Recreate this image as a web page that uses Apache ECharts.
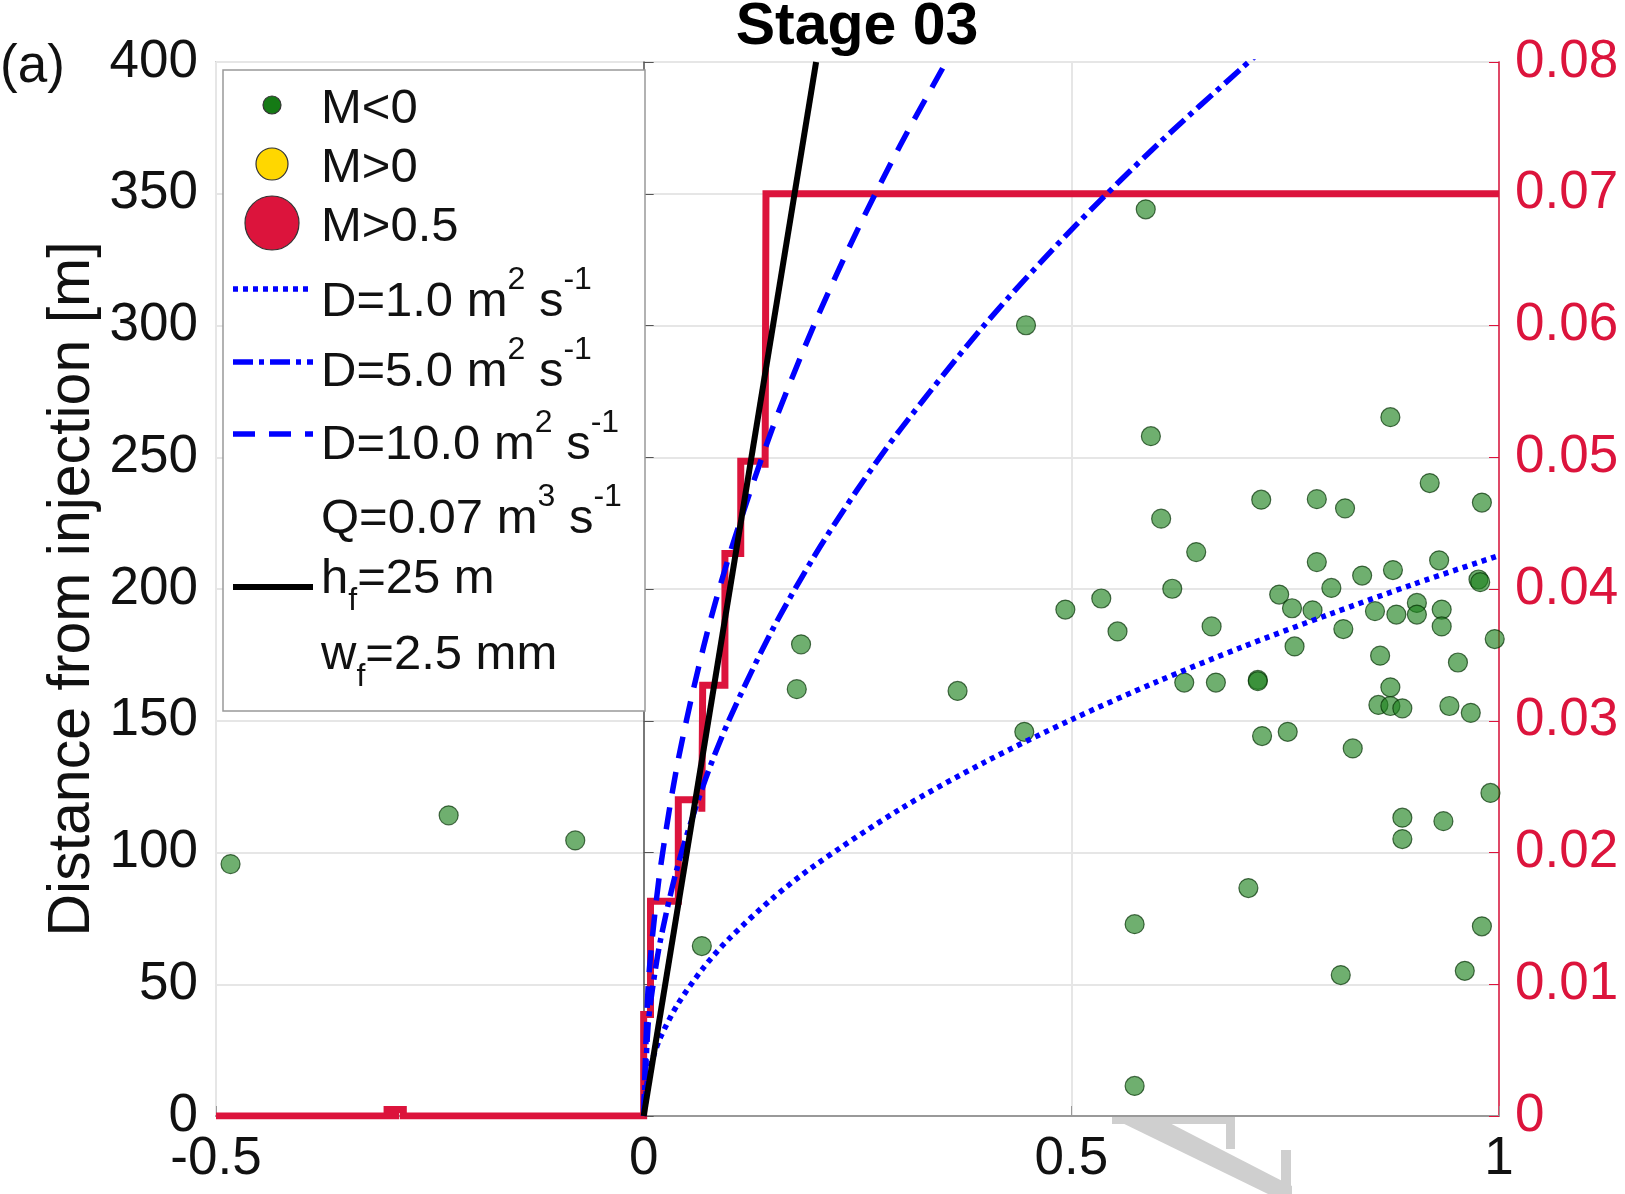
<!DOCTYPE html>
<html>
<head>
<meta charset="utf-8">
<title>Stage 03</title>
<script src="https://cdn.jsdelivr.net/npm/echarts@6/dist/echarts.min.js"></script>
<style>
  html, body { margin: 0; padding: 0; background: #fff; }
  #main { width: 1625px; height: 1194px; }
</style>
</head>
<body>
<div id="main"></div>
<script>
// Stage 03 - distance of events from injection vs time, injection rate on right axis
var FONT = 'Liberation Sans';
var RED = '#DC143C';
var BLUE = '#0000FF';

// events M<0 : [time, distance m]
var eventsSmall = [
  [-0.483, 95.6], [-0.228, 114.1], [-0.080, 104.6], [0.068, 64.5],
  [0.179, 162.0], [0.184, 179.0], [0.367, 161.3], [0.447, 300.1],
  [0.587, 344.1], [0.574, 72.8], [0.574, 11.4], [0.707, 86.5],
  [0.815, 53.5], [0.960, 55.1], [0.980, 72.0],
  [0.593, 258.0], [0.873, 265.2], [0.605, 226.7], [0.646, 214.0],
  [0.722, 233.9], [0.787, 234.1], [0.820, 230.6], [0.919, 240.2],
  [0.980, 232.8], [0.535, 196.4], [0.493, 192.2], [0.618, 200.1],
  [0.554, 183.9], [0.664, 185.8], [0.743, 197.9], [0.758, 192.7],
  [0.787, 210.2], [0.804, 200.4], [0.840, 205.1], [0.876, 207.2],
  [0.930, 210.9], [0.976, 203.6], [0.978, 202.6], [0.782, 191.9],
  [0.855, 191.6], [0.880, 190.3], [0.904, 194.7], [0.904, 190.3],
  [0.933, 192.2], [0.933, 185.8], [0.818, 184.8], [0.761, 178.2],
  [0.995, 181.0], [0.861, 174.7], [0.952, 172.1], [0.632, 164.5],
  [0.669, 164.5], [0.718, 165.5], [0.718, 165.0], [0.873, 162.7],
  [0.859, 156.0], [0.873, 155.6], [0.887, 154.7], [0.942, 155.6],
  [0.967, 153.0], [0.445, 145.8], [0.723, 144.2], [0.753, 145.8],
  [0.829, 139.5], [0.990, 122.6], [0.887, 113.2], [0.935, 111.9],
  [0.887, 105.1]
];
// M>0 and M>0.5 : no events in this stage
var eventsMid = [];
var eventsLarge = [];

// diffusion fronts
var frontD1 = [
  [0, 0], [0.005, 15.0], [0.01, 21.3], [0.02, 30.1], [0.04, 42.5], [0.07, 56.3],
  [0.1, 67.3], [0.15, 82.4], [0.2, 95.1], [0.3, 116.5], [0.4, 134.5], [0.5, 150.4],
  [0.6, 164.8], [0.7, 178.0], [0.8, 190.2], [0.9, 201.8], [1.0, 212.7]
];
var frontD5 = [
  [0, 0], [0.005, 33.6], [0.01, 47.6], [0.02, 67.3], [0.04, 95.1], [0.07, 125.8],
  [0.1, 150.4], [0.15, 184.2], [0.2, 212.7], [0.25, 237.8], [0.3, 260.5],
  [0.4, 300.8], [0.5, 336.3], [0.6, 368.4], [0.7, 397.9], [0.72, 403.6]
];
var frontD10 = [
  [0, 0], [0.005, 47.6], [0.01, 67.3], [0.02, 95.1], [0.04, 134.5], [0.07, 178.0],
  [0.1, 212.7], [0.15, 260.5], [0.2, 300.8], [0.25, 336.3], [0.3, 368.4],
  [0.35, 397.9], [0.36, 403.6]
];
// fracture front, h_f = 25 m, w_f = 2.5 mm
var fracFront = [[0, 0], [0.2016, 400]];

// injection rate Q [m3/s]
var injRate = [
  [-0.5, 0], [-0.300, 0], [-0.300, 0.0005], [-0.294, 0.0005], [-0.294, 0],
  [-0.290, 0], [-0.290, 0.0005], [-0.281, 0.0005], [-0.281, 0],
  [0, 0], [0, 0.0077], [0.008, 0.0077], [0.008, 0.0163],
  [0.0405, 0.0163], [0.0405, 0.0240], [0.068, 0.0240], [0.068, 0.0231],
  [0.069, 0.0231], [0.069, 0.0327], [0.095, 0.0327], [0.095, 0.0427],
  [0.1135, 0.0427], [0.1135, 0.0497], [0.142, 0.0497], [0.142, 0.0492],
  [0.143, 0.0492], [0.143, 0.0700], [1.0, 0.0700]
];

var chart = echarts.init(document.getElementById('main'), null, { renderer: 'canvas' });

var tickFont = { fontFamily: FONT, fontSize: 53, color: '#111' };

// legend rows (drawn as graphic so the sup/subscripts work)
var rich = {
  b: { fontFamily: FONT, fontSize: 49, lineHeight: 76, color: '#111' },
  sup: { fontFamily: FONT, fontSize: 32, lineHeight: 32, verticalAlign: 'top', color: '#111' },
  sub: { fontFamily: FONT, fontSize: 32, lineHeight: 32, verticalAlign: 'bottom', color: '#111' }
};
function legendText(y, str) {
  return {
    type: 'text', x: 321, y: y, z: 101,
    style: { text: str, rich: rich, verticalAlign: 'middle', align: 'left', fill: '#111' }
  };
}
function legendLine(y, dash, color, w) {
  return {
    type: 'line', z: 101,
    shape: { x1: 233, y1: y, x2: 313, y2: y },
    style: { stroke: color, lineWidth: w, lineDash: dash }
  };
}
function legendDot(y, r, fill) {
  return {
    type: 'circle', z: 101,
    shape: { cx: 272, cy: y, r: r },
    style: { fill: fill, stroke: '#333', lineWidth: 1.2 }
  };
}

var legendItems = [
  { type: 'rect', z: 100, shape: { x: 223, y: 70, width: 422, height: 641 },
    style: { fill: '#fff', stroke: '#999', lineWidth: 1.5 } },
  legendDot(105, 9, '#157a15'),
  legendDot(164, 16, '#FFD700'),
  legendDot(223, 27, RED),
  legendLine(289, [5, 5], BLUE, 5.5),
  legendLine(362, [20, 6, 5, 6], BLUE, 5.5),
  legendLine(434, [22, 14], BLUE, 5.5),
  legendLine(587, null, '#000', 6),
  legendText(109, '{b|M<0}'),
  legendText(168, '{b|M>0}'),
  legendText(227, '{b|M>0.5}'),
  legendText(302, '{b|D=1.0 m}{sup|2}{b| s}{sup|-1}'),
  legendText(372, '{b|D=5.0 m}{sup|2}{b| s}{sup|-1}'),
  legendText(445, '{b|D=10.0 m}{sup|2}{b| s}{sup|-1}'),
  legendText(519, '{b|Q=0.07 m}{sup|3}{b| s}{sup|-1}'),
  legendText(579, '{b|h}{sub|f}{b|=25 m}'),
  legendText(655, '{b|w}{sub|f}{b|=2.5 mm}')
];

// faint watermark remnant under the axis
var watermark = [
  { type: 'polygon', z: 1, silent: true,
    shape: { points: [[1112, 1118], [1160, 1118], [1292, 1186], [1292, 1194], [1268, 1194]] },
    style: { fill: '#cfcfcf' } },
  { type: 'rect', z: 1, shape: { x: 1112, y: 1117, width: 120, height: 7 }, style: { fill: '#cfcfcf' } },
  { type: 'rect', z: 1, shape: { x: 1226, y: 1117, width: 9, height: 32 }, style: { fill: '#cfcfcf' } },
  { type: 'rect', z: 1, shape: { x: 1281, y: 1150, width: 10, height: 44 }, style: { fill: '#cfcfcf' } }
];

var option = {
  animation: false,
  backgroundColor: '#fff',
  grid: {
    left: 216, right: 126, top: 62, bottom: 78,
    show: true, borderColor: '#aaa', borderWidth: 1.5, backgroundColor: 'transparent'
  },
  xAxis: {
    type: 'value', min: -0.5, max: 1, interval: 0.5,
    axisLine: { onZero: false, lineStyle: { color: '#999', width: 2 } },
    axisTick: { inside: true, length: 10, lineStyle: { color: '#999' } },
    axisLabel: Object.assign({ margin: 17, formatter: function (v) { return String(v); } }, tickFont),
    splitLine: { show: true, lineStyle: { color: '#e6e6e6', width: 2 } }
  },
  yAxis: [{
    type: 'value', min: 0, max: 400, interval: 50, position: 'left',
    name: 'Distance from injection [m]', nameLocation: 'middle', nameGap: 114,
    nameMoveOverlap: false,
    nameTextStyle: { fontFamily: FONT, fontSize: 59, color: '#111' },
    axisLine: { show: true, lineStyle: { color: '#555', width: 1.5 } },
    axisTick: { show: true, inside: true, length: 10, lineStyle: { color: '#555' } },
    axisLabel: Object.assign({ margin: 18 }, tickFont),
    splitLine: { show: true, lineStyle: { color: '#e6e6e6', width: 2 } }
  }, {
    type: 'value', min: 0, max: 0.08, interval: 0.01, position: 'right',
    axisLine: { show: true, lineStyle: { color: RED, width: 1.5 } },
    axisTick: { show: true, inside: true, length: 10, lineStyle: { color: RED } },
    axisLabel: { margin: 16, fontFamily: FONT, fontSize: 53, color: RED,
      formatter: function (v) { return v === 0 ? '0' : v.toFixed(2); } },
    splitLine: { show: false }
  }],
  graphic: [
    { type: 'text', x: 857, y: 28, z: 100,
      style: { text: 'Stage 03', fontFamily: FONT, fontSize: 59, fontWeight: 'bold',
        fill: '#000', align: 'center', verticalAlign: 'middle' } },
    { type: 'text', x: 0, y: 67, z: 100,
      style: { text: '(a)', fontFamily: FONT, fontSize: 53, fill: '#111',
        align: 'left', verticalAlign: 'middle' } }
  ].concat(legendItems, watermark),
  series: [{
    name: 'Q', type: 'line', yAxisIndex: 1, data: injRate,
    showSymbol: false, symbol: 'none',
    lineStyle: { color: RED, width: 7, join: 'miter' }
  }, {
    name: 'D=1.0', type: 'line', data: frontD1, showSymbol: false, symbol: 'none', smooth: 0.3,
    lineStyle: { color: BLUE, width: 5.5, type: [5, 5] }
  }, {
    name: 'D=5.0', type: 'line', data: frontD5, showSymbol: false, symbol: 'none', smooth: 0.3,
    lineStyle: { color: BLUE, width: 5.5, type: [20, 6, 5, 6] }
  }, {
    name: 'D=10.0', type: 'line', data: frontD10, showSymbol: false, symbol: 'none', smooth: 0.3,
    lineStyle: { color: BLUE, width: 5.5, type: [22, 14] }
  }, {
    name: 'h_f', type: 'line', data: fracFront, showSymbol: false, symbol: 'none',
    lineStyle: { color: '#000', width: 6 }
  }, {
    name: 'M<0', type: 'scatter', data: eventsSmall, symbolSize: 19,
    itemStyle: { color: 'rgba(30,130,30,0.8)', borderColor: 'rgba(0,45,0,0.85)', borderWidth: 1.2 }
  }, {
    name: 'M>0', type: 'scatter', data: eventsMid, symbolSize: 33,
    itemStyle: { color: '#FFD700', borderColor: '#333', borderWidth: 1.2 }
  }, {
    name: 'M>0.5', type: 'scatter', data: eventsLarge, symbolSize: 54,
    itemStyle: { color: RED, borderColor: '#333', borderWidth: 1.2 }
  }]
};

chart.setOption(option);
</script>
</body>
</html>
